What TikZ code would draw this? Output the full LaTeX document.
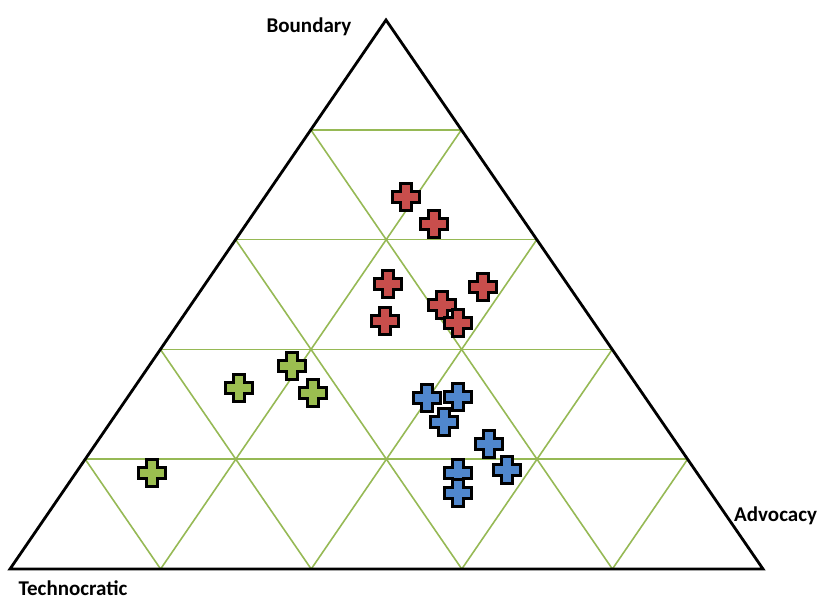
\documentclass[tikz,border=0pt]{standalone}
\usepackage{fontspec}
\setmainfont{Carlito}
\usetikzlibrary{calc}
\definecolor{gridgreen}{RGB}{150,185,85}
\definecolor{mred}{RGB}{200,78,76}
\definecolor{mblue}{RGB}{80,135,205}
\definecolor{mgreen}{RGB}{155,190,80}
\tikzset{
  plusmark/.pic={\path[pic actions] (-5.5,-13.5) -- (5.5,-13.5) -- (5.5,-5.5) -- (13.5,-5.5) -- (13.5,5.5) -- (5.5,5.5) -- (5.5,13.5) -- (-5.5,13.5) -- (-5.5,5.5) -- (-13.5,5.5) -- (-13.5,-5.5) -- (-5.5,-5.5) -- cycle;},
  mk/.style={draw=black, line width=2.4pt, line join=miter},
  redmk/.style={mk, fill=mred},
  bluemk/.style={mk, fill=mblue},
  greenmk/.style={mk, fill=mgreen},
  gridline/.style={draw=gridgreen, line width=1.6pt},
  axislabel/.style={font=\bfseries\fontsize{21}{23}\selectfont, inner sep=0pt}
}
\begin{document}
\begin{tikzpicture}[x=1pt,y=-1pt]
\useasboundingbox (0,0) rectangle (819,599);
\coordinate (T) at (386,20);
\coordinate (L) at (10,569);
\coordinate (R) at (763,569);
% grid
\foreach \k in {1,2,3,4}{
  \pgfmathsetmacro{\f}{\k/5}
  \draw[gridline] ($(L)!\f!(T)$) -- ($(R)!\f!(T)$);
  \draw[gridline] ($(L)!\f!(T)$) -- ($(L)!\f!(R)$);
  \draw[gridline] ($(R)!\f!(T)$) -- ($(R)!\f!(L)$);
}
\draw[black, line width=2.8pt, line join=miter] (T) -- (L) -- (R) -- cycle;
% labels
\node[axislabel] (lb) at (309,27) {Boundary};
\node[axislabel] (lt) at (73,588) {Technocratic};
\node[axislabel, anchor=west] (la) at (734,516) {Advocacy};
% red
\foreach \p in {(406,197),(434,224),(388,284),(483,287),(442,305),(385,321),(458,323)}
  \pic[redmk] at \p {plusmark};
% blue
\foreach \p in {(427,398),(458,397),(444,422),(489,444),(507,470),(458,473),(458,493)}
  \pic[bluemk] at \p {plusmark};
% green
\foreach \p in {(292,366),(239,388),(313,393),(152,473)}
  \pic[greenmk] at \p {plusmark};
\end{tikzpicture}
\end{document}
